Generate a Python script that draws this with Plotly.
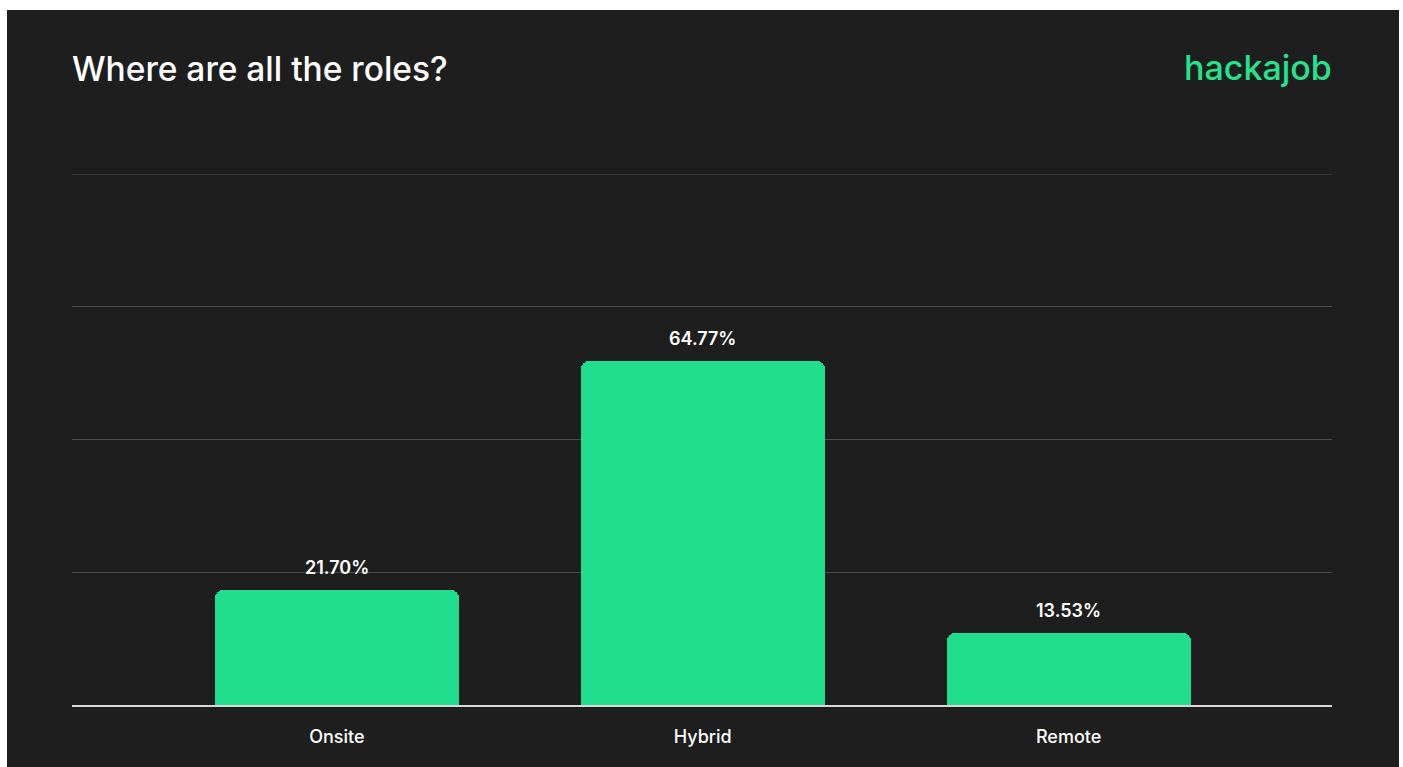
import plotly.graph_objects as go

# Share of roles by working arrangement (%)
categories = ["Onsite", "Hybrid", "Remote"]
shares = [21.70, 64.77, 13.53]
value_labels = ["21.70%", "64.77%", "13.53%"]

BG = "#1e1e1e"
GREEN = "#20de8b"
W, H = 1403, 767
ML, MR, MT, MB = 72, 71, 174, 62
PW, PH = W - ML - MR, H - MT - MB

fig = go.Figure(
    go.Bar(
        x=categories,
        y=shares,
        width=0.667,
        marker=dict(color=GREEN, line=dict(width=0), cornerradius=8),
        cliponaxis=False,
        hoverinfo="skip",
    )
)

# value labels above each bar
for cat, val, lab in zip(categories, shares, value_labels):
    fig.add_annotation(
        x=cat, y=val, text=lab, showarrow=False,
        xanchor="center", yanchor="bottom", yshift=10,
        font=dict(family="Inter, Lato, sans-serif", size=18, color="#ffffff", weight=600),
    )

# dark card sitting on a white page
def px_x(v):
    return (v - ML) / PW

def px_y(v):
    return (H - MB - v) / PH

fig.add_shape(
    type="rect", xref="paper", yref="paper",
    x0=px_x(7), x1=px_x(1399), y0=px_y(H + 5), y1=px_y(10),
    fillcolor=BG, line=dict(width=0), layer="below",
)

# top gridline
fig.add_shape(
    type="line", xref="paper", yref="y",
    x0=0, x1=1, y0=100, y1=100,
    line=dict(color="#4c4c4c", width=1), layer="below",
)

fig.add_annotation(
    text="Where are all the roles?", xref="paper", yref="paper",
    x=px_x(70), y=px_y(69), xanchor="left", yanchor="middle", showarrow=False,
    font=dict(family="Inter, Lato, sans-serif", size=33.5, color="#ffffff", weight=500),
)
fig.add_annotation(
    text="hackajob", xref="paper", yref="paper",
    x=px_x(1334), y=px_y(68), xanchor="right", yanchor="middle", showarrow=False,
    font=dict(family="Inter, Lato, sans-serif", size=34, color="#25e28f", weight=500),
)

fig.update_layout(
    width=W, height=H,
    margin=dict(l=ML, r=MR, t=MT, b=MB, pad=0),
    paper_bgcolor="#ffffff",
    plot_bgcolor=BG,
    showlegend=False,
    bargap=0,
    xaxis=dict(
        range=[-0.724, 2.72],
        showgrid=False,
        showline=True, linecolor="#d8d8d8", linewidth=2,
        ticks="", ticklen=0,
        ticklabelstandoff=14,
        tickfont=dict(family="Inter, Lato, sans-serif", size=18, color="#ffffff", weight=500),
        fixedrange=True,
    ),
    yaxis=dict(
        range=[0, 100],
        dtick=25,
        showgrid=True, gridcolor="#4c4c4c", gridwidth=1,
        zeroline=False,
        showticklabels=False,
        ticks="",
        fixedrange=True,
    ),
)

fig.write_html("out.html", config={"displayModeBar": False})
